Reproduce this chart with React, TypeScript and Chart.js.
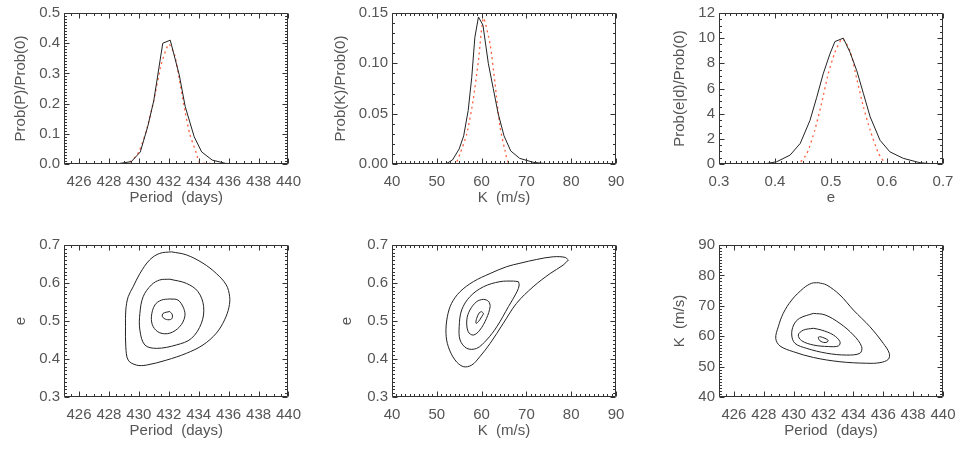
import React, { useEffect, useRef } from "react";
import { Chart, registerables } from "chart.js";

Chart.register(...registerables);

// ---------- tick values & labels ----------
const periodTicks = [426, 428, 430, 432, 434, 436, 438, 440];
const periodTickLabels = ["426", "428", "430", "432", "434", "436", "438", "440"];
const kTicks = [40, 50, 60, 70, 80, 90];
const kTickLabels = ["40", "50", "60", "70", "80", "90"];
const eTicks = [0.3, 0.4, 0.5, 0.6, 0.7];
const eTickLabels = ["0.3", "0.4", "0.5", "0.6", "0.7"];
const probPTicks = [0, 0.1, 0.2, 0.3, 0.4, 0.5];
const probPTickLabels = ["0.0", "0.1", "0.2", "0.3", "0.4", "0.5"];
const probKTicks = [0, 0.05, 0.1, 0.15];
const probKTickLabels = ["0.00", "0.05", "0.10", "0.15"];
const probETicks = [0, 2, 4, 6, 8, 10, 12];
const probETickLabels = ["0", "2", "4", "6", "8", "10", "12"];

// ---------- marginal probability curves ----------
const periodProbX = [425, 428.5, 429.5, 430.1, 430.6, 431.0, 431.6, 432.1, 432.7, 433.1, 433.7, 434.2, 434.9, 435.8, 437, 440];
const periodProbY = [0, 0, 0.008, 0.04, 0.125, 0.21, 0.4, 0.41, 0.295, 0.19, 0.09, 0.04, 0.013, 0.002, 0, 0];
const periodGaussX = [425, 429, 429.5, 430, 430.5, 431, 431.5, 432, 432.4, 432.75, 433.1, 433.4, 433.85, 434.1, 440];
const periodGaussY = [0, 0.002, 0.01, 0.04, 0.11, 0.21, 0.33, 0.397, 0.36, 0.266, 0.17, 0.1, 0.035, 0.003, 0];

const kProbX = [40, 52, 53.5, 55, 56, 57, 57.8, 58.5, 59.3, 60.3, 61.5, 62.6, 63.7, 65, 66.5, 68.5, 71.5, 75, 90];
const kProbY = [0, 0, 0.004, 0.015, 0.028, 0.053, 0.086, 0.126, 0.146, 0.138, 0.1, 0.075, 0.05, 0.028, 0.013, 0.0056, 0.0017, 0, 0];
const kGaussX = [40, 54, 55.2, 56.7, 58.1, 59.3, 60.4, 61.9, 63.0, 64.1, 65.2, 66.3, 90];
const kGaussY = [0, 0, 0.0105, 0.03, 0.063, 0.103, 0.145, 0.119, 0.08, 0.037, 0.014, 0, 0];

const eProbX = [0.3, 0.38, 0.403, 0.427, 0.445, 0.4625, 0.4745, 0.486, 0.498, 0.507, 0.522, 0.534, 0.546, 0.558, 0.57, 0.5875, 0.605, 0.629, 0.659, 0.68, 0.7];
const eProbY = [0, 0, 0.18, 0.71, 1.63, 3.47, 5.3, 7.16, 8.74, 9.73, 10.0, 8.87, 7.42, 5.58, 3.74, 1.89, 0.97, 0.45, 0.1, 0.02, 0];
const eGaussX = [0.3, 0.44, 0.457, 0.471, 0.483, 0.495, 0.507, 0.52, 0.534, 0.546, 0.558, 0.57, 0.585, 0.6, 0.7];
const eGaussY = [0, 0, 0.84, 2.68, 4.79, 7.16, 8.87, 9.95, 9.0, 6.77, 4.52, 2.68, 0.84, 0, 0];

// ---------- joint probability contours ----------
const periodEccContourP = [
  [432.18, 433.18, 434.29, 435.18, 435.84, 436.07, 436.02, 435.73, 435.18, 434.29, 433.18, 431.84, 430.51, 429.84, 429.29, 429.13, 429.11, 429.13, 429.29, 429.62, 430.07, 430.73, 431.4],
  [432.07, 433.18, 433.96, 434.33, 434.18, 433.51, 432.51, 431.18, 430.4, 430.07, 430.07, 430.29, 430.84, 431.4],
  [432.07, 432.62, 433.0, 433.07, 432.73, 432.07, 431.4, 430.96, 430.84, 431.07, 431.51],
  [432.07, 432.24, 432.18, 431.84, 431.58, 431.62],
];
const periodEccContourE = [
  [0.682, 0.674, 0.652, 0.625, 0.595, 0.564, 0.536, 0.503, 0.468, 0.437, 0.415, 0.397, 0.384, 0.384, 0.397, 0.432, 0.485, 0.529, 0.564, 0.59, 0.625, 0.661, 0.678],
  [0.61, 0.599, 0.577, 0.538, 0.494, 0.454, 0.437, 0.428, 0.437, 0.476, 0.52, 0.564, 0.595, 0.608],
  [0.558, 0.555, 0.533, 0.511, 0.485, 0.468, 0.469, 0.485, 0.511, 0.542, 0.555],
  [0.525, 0.516, 0.505, 0.504, 0.511, 0.52],
];

const kEccContourK = [
  [79.36, 78.6, 76.0, 72.3, 68.57, 65.6, 61.9, 58.15, 55.18, 53.3, 52.35, 52.05, 52.57, 54.06, 55.9, 57.8, 59.6, 61.9, 64.85, 67.8, 71.5, 75.3, 78.2],
  [68.2, 67.1, 64.1, 60.4, 57.4, 55.55, 55.0, 55.2, 56.7, 58.9, 61.1, 63.4, 66.0, 67.9, 68.4],
  [61.1, 60.4, 58.9, 57.4, 56.7, 57.0, 58.15, 59.6, 61.1, 61.9, 61.6],
  [60.0, 59.5, 58.9, 58.75, 59.3, 60.0, 60.4],
];
const kEccContourE = [
  [0.6605, 0.6675, 0.669, 0.662, 0.652, 0.643, 0.625, 0.6035, 0.577, 0.5465, 0.511, 0.4675, 0.4325, 0.3975, 0.38, 0.384, 0.406, 0.441, 0.494, 0.5465, 0.59, 0.625, 0.647],
  [0.6035, 0.605, 0.6035, 0.59, 0.564, 0.529, 0.485, 0.45, 0.428, 0.428, 0.45, 0.485, 0.538, 0.577, 0.595],
  [0.555, 0.557, 0.551, 0.529, 0.503, 0.472, 0.463, 0.476, 0.507, 0.538, 0.551],
  [0.5245, 0.522, 0.507, 0.494, 0.4985, 0.511, 0.52],
];

const periodKContourP = [
  [431.65, 432.21, 433.1, 434.0, 435.11, 436.0, 436.4, 436.34, 435.78, 434.89, 433.1, 431.32, 429.98, 429.08, 428.8, 428.97, 429.3, 429.87, 430.65, 431.2],
  [431.32, 432.1, 433.1, 434.0, 434.55, 434.44, 433.55, 432.21, 430.87, 430.09, 429.87, 430.0, 430.4],
  [431.32, 431.88, 432.66, 433.1, 433.0, 432.32, 431.32, 430.54, 430.31, 430.65],
  [431.76, 432.1, 432.32, 432.1, 431.76, 431.65],
];
const periodKContourK = [
  [77.6, 76.84, 73.55, 68.6, 63.1, 57.65, 54.4, 52.4, 51.3, 51.1, 51.6, 53.0, 54.9, 56.8, 59.3, 63.1, 67.5, 71.9, 75.75, 77.4],
  [67.5, 67.0, 64.2, 60.4, 56.6, 54.4, 53.8, 54.4, 56.0, 57.65, 60.4, 63.7, 65.9],
  [62.6, 62.0, 60.4, 58.2, 56.8, 56.6, 57.1, 58.5, 60.4, 62.0],
  [59.85, 59.3, 58.5, 57.9, 58.5, 59.6],
];

// ---------- styling ----------
const FONT = { family: "'Liberation Sans', Arial, sans-serif", size: 15 };
const TEXT_COLOR = "#555555";
const AXIS_COLOR = "#333333";
const LINE_COLOR = "#222222";
const RED = "rgb(255, 95, 60)";

const toPts = (xs: number[], ys: number[]) => xs.map((x, i) => ({ x, y: ys[i] }));

const solid = (xs: number[], ys: number[]) => ({
  data: toPts(xs, ys),
  showLine: true,
  pointRadius: 0,
  borderColor: LINE_COLOR,
  borderWidth: 1,
  tension: 0,
  fill: false,
});
const dotted = (xs: number[], ys: number[]) => ({
  data: toPts(xs, ys),
  showLine: true,
  pointRadius: 0,
  borderColor: RED,
  borderWidth: 1.3,
  borderDash: [2, 3.5],
  tension: 0.2,
  fill: false,
});
const contours = (xs: number[][], ys: number[][]) =>
  xs.map((cx, i) => {
    const pts = toPts(cx, ys[i]);
    pts.push({ ...pts[0] });
    return {
      data: pts,
      showLine: true,
      pointRadius: 0,
      borderColor: LINE_COLOR,
      borderWidth: 1,
      tension: 0.35,
      fill: false,
    };
  });

// IDL-like box with inward major/minor ticks on all four sides
const idlAxes = {
  id: "idlAxes",
  afterDatasetsDraw(chart: any, _args: any, opts: any) {
    const { ctx, chartArea: a, scales } = chart;
    const xs = scales.x;
    const ys = scales.y;
    const L = Math.round(a.left) + 0.5;
    const R = Math.round(a.right) - 0.5;
    const T = Math.round(a.top) + 0.5;
    const B = Math.round(a.bottom) - 0.5;
    ctx.save();
    ctx.strokeStyle = AXIS_COLOR;
    ctx.lineWidth = 1;
    ctx.beginPath();
    ctx.rect(L, T, R - L, B - T);
    ctx.stroke();
    const majLen = 5;
    const minLen = 2.5;
    const isMajor = (v: number, majors: number[], step: number) =>
      majors.some((m) => Math.abs(m - v) < step / 10);
    // x ticks
    {
      const n = Math.round((xs.max - xs.min) / opts.xMinor);
      ctx.beginPath();
      for (let i = 0; i <= n; i++) {
        const v = xs.min + i * opts.xMinor;
        const len = isMajor(v, opts.xMajor, opts.xMinor) ? majLen : minLen;
        const px = Math.round(xs.getPixelForValue(v)) + 0.5;
        ctx.moveTo(px, B);
        ctx.lineTo(px, B - len);
        ctx.moveTo(px, T);
        ctx.lineTo(px, T + len);
      }
      ctx.stroke();
    }
    // y ticks
    {
      const n = Math.round((ys.max - ys.min) / opts.yMinor);
      ctx.beginPath();
      for (let i = 0; i <= n; i++) {
        const v = ys.min + i * opts.yMinor;
        const len = isMajor(v, opts.yMajor, opts.yMinor) ? majLen : minLen;
        const py = Math.round(ys.getPixelForValue(v)) + 0.5;
        ctx.moveTo(L, py);
        ctx.lineTo(L + len, py);
        ctx.moveTo(R, py);
        ctx.lineTo(R - len, py);
      }
      ctx.stroke();
    }
    ctx.restore();
  },
};

type PanelDef = {
  left: number; top: number; w: number; h: number;
  padTop: number; padRight: number; yAxisW: number; xAxisH: number;
  xMin: number; xMax: number; yMin: number; yMax: number;
  xTicks: number[]; xLabels: string[]; yTicks: number[]; yLabels: string[];
  xMinor: number; yMinor: number;
  xTitle: string; yTitle: string; yTitlePad: number; xTitlePad: number;
  datasets: any[];
};

const TOP = { top: 0, h: 215, padTop: 12, xAxisH: 51, xTitlePad: 8 };
const BOT = { top: 225, h: 226, padTop: 20, xAxisH: 54, xTitlePad: 11 };
const COL1 = { left: 0, w: 310, padRight: 21, yAxisW: 64 };
const COL2 = { left: 320, w: 320, padRight: 24, yAxisW: 72 };
const COL3 = { left: 645, w: 324, padRight: 26, yAxisW: 74 };

const panels: PanelDef[] = [
  {
    ...TOP, ...COL1,
    xMin: 425, xMax: 440, yMin: 0, yMax: 0.5,
    xTicks: periodTicks, xLabels: periodTickLabels, yTicks: probPTicks, yLabels: probPTickLabels,
    xMinor: 0.5, yMinor: 0.01,
    xTitle: "Period  (days)", yTitle: "Prob(P)/Prob(0)", yTitlePad: 12,
    datasets: [solid(periodProbX, periodProbY), dotted(periodGaussX, periodGaussY)],
  },
  {
    ...TOP, ...COL2,
    xMin: 40, xMax: 90, yMin: 0, yMax: 0.15,
    xTicks: kTicks, xLabels: kTickLabels, yTicks: probKTicks, yLabels: probKTickLabels,
    xMinor: 1, yMinor: 0.01,
    xTitle: "K  (m/s)", yTitle: "Prob(K)/Prob(0)", yTitlePad: 12,
    datasets: [solid(kProbX, kProbY), dotted(kGaussX, kGaussY)],
  },
  {
    ...TOP, ...COL3,
    xMin: 0.3, xMax: 0.7, yMin: 0, yMax: 12,
    xTicks: eTicks, xLabels: eTickLabels, yTicks: probETicks, yLabels: probETickLabels,
    xMinor: 0.01, yMinor: 0.5,
    xTitle: "e", yTitle: "Prob(e|d)/Prob(0)", yTitlePad: 26,
    datasets: [solid(eProbX, eProbY), dotted(eGaussX, eGaussY)],
  },
  {
    ...BOT, ...COL1,
    xMin: 425, xMax: 440, yMin: 0.3, yMax: 0.7,
    xTicks: periodTicks, xLabels: periodTickLabels, yTicks: eTicks, yLabels: eTickLabels,
    xMinor: 0.5, yMinor: 0.01,
    xTitle: "Period  (days)", yTitle: "e", yTitlePad: 12,
    datasets: contours(periodEccContourP, periodEccContourE),
  },
  {
    ...BOT, ...COL2,
    xMin: 40, xMax: 90, yMin: 0.3, yMax: 0.7,
    xTicks: kTicks, xLabels: kTickLabels, yTicks: eTicks, yLabels: eTickLabels,
    xMinor: 1, yMinor: 0.01,
    xTitle: "K  (m/s)", yTitle: "e", yTitlePad: 18,
    datasets: contours(kEccContourK, kEccContourE),
  },
  {
    ...BOT, ...COL3,
    xMin: 425, xMax: 440, yMin: 40, yMax: 90,
    xTicks: periodTicks, xLabels: periodTickLabels, yTicks: kTicks, yLabels: kTickLabels,
    xMinor: 0.5, yMinor: 1,
    xTitle: "Period  (days)", yTitle: "K  (m/s)", yTitlePad: 26,
    datasets: contours(periodKContourP, periodKContourK),
  },
];

function Panel({ def }: { def: PanelDef }) {
  const ref = useRef<HTMLCanvasElement>(null);
  useEffect(() => {
    if (!ref.current) return;
    const chart = new Chart(ref.current, {
      type: "scatter",
      data: { datasets: def.datasets },
      options: {
        animation: false,
        responsive: false,
        devicePixelRatio: 1,
        events: [],
        layout: { padding: { top: def.padTop, right: def.padRight, left: 0, bottom: 0 } },
        plugins: {
          legend: { display: false },
          tooltip: { enabled: false },
          idlAxes: { xMinor: def.xMinor, yMinor: def.yMinor, xMajor: def.xTicks, yMajor: def.yTicks },
        } as any,
        scales: {
          x: {
            type: "linear",
            position: "bottom",
            min: def.xMin,
            max: def.xMax,
            afterBuildTicks: (s: any) => {
              s.ticks = def.xTicks.map((v) => ({ value: v }));
            },
            afterFit: (s: any) => {
              s.height = def.xAxisH;
            },
            ticks: {
              callback: (_v: any, i: number) => def.xLabels[i],
              autoSkip: false,
              maxRotation: 0,
              minRotation: 0,
              padding: 9,
              font: FONT,
              color: TEXT_COLOR,
            },
            grid: { display: false, drawTicks: false },
            border: { display: false },
            title: {
              display: true,
              text: def.xTitle,
              font: FONT,
              color: TEXT_COLOR,
              padding: { top: 0, bottom: def.xTitlePad },
            },
          },
          y: {
            type: "linear",
            position: "left",
            min: def.yMin,
            max: def.yMax,
            afterBuildTicks: (s: any) => {
              s.ticks = def.yTicks.map((v) => ({ value: v }));
            },
            afterFit: (s: any) => {
              s.width = def.yAxisW;
            },
            ticks: {
              callback: (_v: any, i: number) => def.yLabels[i],
              autoSkip: false,
              padding: 4,
              font: FONT,
              color: TEXT_COLOR,
            },
            grid: { display: false, drawTicks: false },
            border: { display: false },
            title: {
              display: true,
              text: def.yTitle,
              font: FONT,
              color: TEXT_COLOR,
              padding: { top: def.yTitlePad, bottom: 0 },
            },
          },
        } as any,
      },
      plugins: [idlAxes as any],
    } as any);
    return () => chart.destroy();
  }, [def]);
  return (
    <canvas
      ref={ref}
      width={def.w}
      height={def.h}
      style={{ position: "absolute", left: def.left, top: def.top, width: def.w, height: def.h, display: "block" }}
    />
  );
}

export default function App() {
  return (
    <div style={{ position: "absolute", left: 0, top: 0, width: 969, height: 451, background: "#ffffff" }}>
      {panels.map((p, i) => (
        <Panel key={i} def={p} />
      ))}
    </div>
  );
}
